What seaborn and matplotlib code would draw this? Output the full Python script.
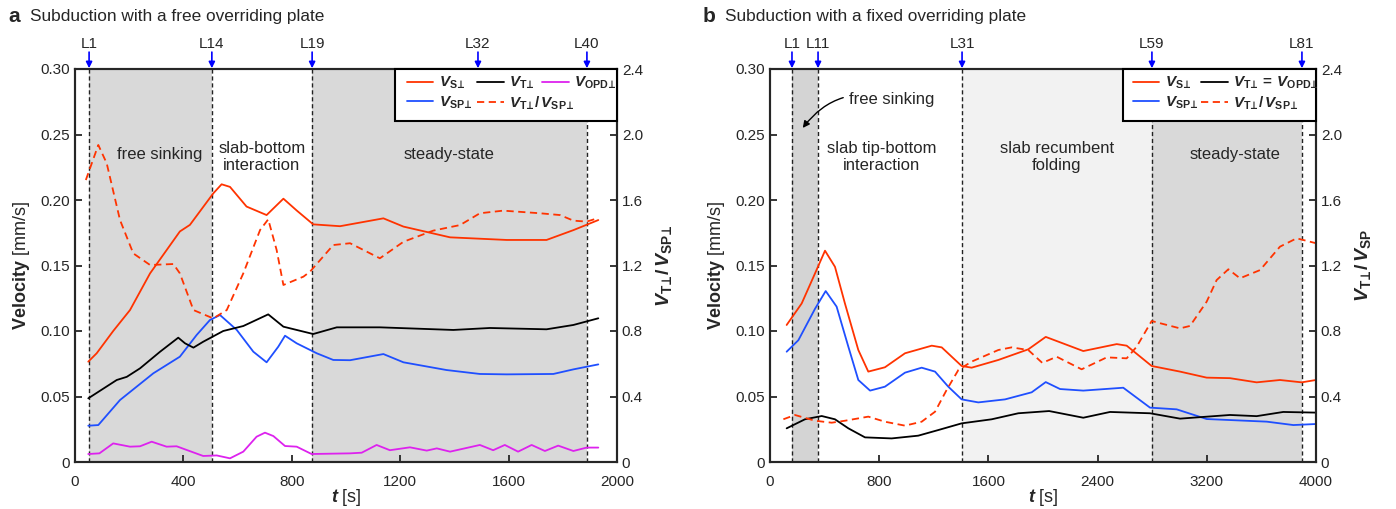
import numpy as np
import pandas as pd
import matplotlib
matplotlib.use("Agg")
import matplotlib.pyplot as plt
from matplotlib.patches import Rectangle
import seaborn as sns

# ---------------- data: panel a (free overriding plate) ----------------
a_vs_t = [49, 80, 141, 203, 277, 387, 424, 510, 541, 572, 633, 707, 769, 818, 879, 978, 1138, 1212, 1384, 1593, 1740, 1839, 1931]
a_vs_v = [0.0766, 0.083, 0.100, 0.116, 0.144, 0.176, 0.181, 0.205, 0.212, 0.210, 0.195, 0.1885, 0.201, 0.192, 0.1814, 0.180, 0.186, 0.1797, 0.1715, 0.1695, 0.1695, 0.177, 0.1847]

a_vt_t = [49, 154, 191, 240, 314, 381, 406, 437, 473, 547, 621, 713, 769, 818, 879, 966, 1125, 1396, 1531, 1740, 1839, 1931]
a_vt_v = [0.0486, 0.0626, 0.065, 0.0715, 0.0842, 0.0949, 0.0906, 0.0873, 0.0918, 0.100, 0.1038, 0.1127, 0.1033, 0.1008, 0.0977, 0.1028, 0.1028, 0.1008, 0.1023, 0.1013, 0.1046, 0.1097]

a_vsp_t = [49, 86, 166, 289, 387, 449, 498, 535, 597, 658, 707, 750, 775, 818, 892, 953, 1015, 1138, 1212, 1371, 1494, 1593, 1765, 1839, 1931]
a_vsp_v = [0.0277, 0.0282, 0.0473, 0.0677, 0.0804, 0.097, 0.1084, 0.1122, 0.1008, 0.0842, 0.0761, 0.088, 0.0964, 0.0906, 0.083, 0.0779, 0.0777, 0.0824, 0.0761, 0.0702, 0.0672, 0.0669, 0.0672, 0.0707, 0.0745]

a_vopd_t = [49, 90, 141, 203, 240, 283, 338, 375, 412, 473, 523, 572, 621, 670, 701, 732, 775, 818, 873, 1015, 1058, 1113, 1162, 1236, 1298, 1335, 1384, 1494, 1543, 1586, 1635, 1685, 1734, 1783, 1839, 1888, 1931]
a_vopd_v = [0.0061, 0.0066, 0.0142, 0.0117, 0.012, 0.0155, 0.0117, 0.012, 0.0092, 0.0046, 0.005, 0.0028, 0.0079, 0.0193, 0.0224, 0.0198, 0.0122, 0.0117, 0.0061, 0.0066, 0.0071, 0.013, 0.009, 0.0112, 0.0087, 0.0104, 0.0079, 0.013, 0.009, 0.013, 0.0079, 0.013, 0.0084, 0.0125, 0.0084, 0.011, 0.011]

a_ratio_t = [40, 86, 117, 166, 215, 277, 363, 387, 437, 510, 560, 621, 683, 713, 744, 769, 843, 867, 953, 1015, 1125, 1212, 1322, 1421, 1494, 1580, 1716, 1790, 1839, 1888, 1931]
a_ratio_r = [1.722, 1.936, 1.824, 1.478, 1.274, 1.203, 1.209, 1.152, 0.928, 0.877, 0.928, 1.152, 1.417, 1.482, 1.295, 1.081, 1.132, 1.162, 1.325, 1.336, 1.244, 1.345, 1.413, 1.447, 1.519, 1.535, 1.519, 1.508, 1.474, 1.468, 1.49]

a_marks_t = [52, 505, 875, 1487, 1889]
a_marks_lab = ["L1", "L14", "L19", "L32", "L40"]
a_dashed = [52, 505, 875, 1889]

# ---------------- data: panel b (fixed overriding plate) ----------------
b_vs_t = [122, 232, 330, 403, 476, 549, 647, 720, 842, 989, 1185, 1258, 1404, 1477, 1673, 1892, 2020, 2295, 2540, 2613, 2796, 3004, 3199, 3370, 3565, 3736, 3895, 4000]
b_vs_v = [0.1046, 0.121, 0.144, 0.1613, 0.149, 0.121, 0.0855, 0.069, 0.0723, 0.083, 0.0888, 0.0875, 0.0733, 0.072, 0.0779, 0.086, 0.0955, 0.0847, 0.090, 0.0888, 0.0733, 0.069, 0.0644, 0.064, 0.0608, 0.0626, 0.0608, 0.0626]

b_vsp_t = [122, 208, 330, 408, 488, 574, 647, 733, 842, 989, 1111, 1209, 1306, 1404, 1526, 1722, 1917, 2020, 2125, 2295, 2588, 2784, 2979, 3199, 3639, 3834, 4000]
b_vsp_v = [0.0842, 0.093, 0.117, 0.1305, 0.1186, 0.088, 0.0626, 0.0545, 0.0575, 0.0682, 0.072, 0.069, 0.0575, 0.0478, 0.0455, 0.0478, 0.0532, 0.061, 0.0557, 0.0545, 0.0567, 0.0415, 0.0402, 0.0328, 0.0308, 0.0282, 0.029]

b_vt_t = [122, 256, 379, 476, 574, 696, 891, 1086, 1233, 1404, 1624, 1819, 2045, 2295, 2491, 2784, 3004, 3370, 3565, 3760, 4000]
b_vt_v = [0.0257, 0.0326, 0.0351, 0.0326, 0.0257, 0.0188, 0.018, 0.0201, 0.0244, 0.0295, 0.0326, 0.0372, 0.0389, 0.0338, 0.0382, 0.0372, 0.0331, 0.0359, 0.035, 0.0382, 0.0377]

b_ratio_t = [98, 183, 330, 452, 549, 720, 842, 989, 1111, 1209, 1294, 1380, 1477, 1673, 1770, 1892, 1995, 2100, 2283, 2467, 2613, 2686, 2796, 3004, 3077, 3199, 3272, 3358, 3443, 3590, 3736, 3858, 4000]
b_ratio_r = [0.261, 0.287, 0.252, 0.240, 0.252, 0.277, 0.246, 0.222, 0.246, 0.307, 0.44, 0.562, 0.613, 0.684, 0.700, 0.684, 0.605, 0.643, 0.566, 0.639, 0.633, 0.704, 0.861, 0.816, 0.831, 0.979, 1.111, 1.177, 1.122, 1.172, 1.315, 1.366, 1.336]

b_marks_t = [161, 352, 1407, 2798, 3897]
b_marks_lab = ["L1", "L11", "L31", "L59", "L81"]
b_dashed = [161, 352, 1407, 2798, 3897]

# ---------------- style ----------------
sns.set_style("ticks")
FONT = ["Liberation Sans", "DejaVu Sans"]
plt.rcParams["font.family"] = FONT
plt.rcParams["mathtext.fontset"] = "custom"
plt.rcParams["mathtext.rm"] = "Liberation Sans"
plt.rcParams["mathtext.it"] = "Liberation Sans:italic"
plt.rcParams["mathtext.bf"] = "Liberation Sans:bold"
plt.rcParams["mathtext.fallback"] = "stixsans"
try:
    plt.rcParams["mathtext.bfit"] = "Liberation Sans:bold:italic"
except KeyError:
    pass
plt.rcParams["xtick.direction"] = "in"
plt.rcParams["ytick.direction"] = "in"

RED = "#ff3300"
BLUE = "#1f4fff"
BLACK = "#000000"
MAG = "#dd22ee"
GRAY = "#d9d9d9"
LIGHT = "#f2f2f2"
DASH = (0, (4, 2.5))

fig = plt.figure(figsize=(13.96, 5.09), dpi=100)
axA = fig.add_axes([75 / 1396, 47 / 509, (617 - 75) / 1396, (462 - 69) / 509])
axB = fig.add_axes([770 / 1396, 47 / 509, (1316 - 770) / 1396, (462 - 69) / 509])

def line(ax, t, v, color, ls="-", label=None):
    df = pd.DataFrame({"t": t, "v": v})
    sns.lineplot(data=df, x="t", y="v", ax=ax, color=color, linestyle=ls, lw=1.3,
                 label=label, legend=False, sort=False, estimator=None)

P = "\u22a5"
LBL_VS = r"$\mathbfit{V}_{\mathbf{S" + P + "}}$"
LBL_VSP = r"$\mathbfit{V}_{\mathbf{SP" + P + "}}$"
LBL_VT = r"$\mathbfit{V}_{\mathbf{T" + P + "}}$"
LBL_VOPD = r"$\mathbfit{V}_{\mathbf{OPD" + P + "}}$"
LBL_RATIO = r"$\mathbfit{V}_{\mathbf{T" + P + r"}}\mathbf{/}\,\mathbfit{V}_{\mathbf{SP" + P + "}}$"
LBL_VTEQ = r"$\mathbfit{V}_{\mathbf{T" + P + r"}}\,\mathbf{=}\,\mathbfit{V}_{\mathbf{OPD" + P + "}}$"

def setup(ax, ax2, xmax, xstep, marks_t, marks_lab, dashed):
    ax.set_xlim(0, xmax)
    ax.set_ylim(0, 0.30)
    ax2.set_ylim(0, 2.4)
    ax.set_xticks(np.arange(0, xmax + 1, xstep))
    ax.set_yticks(np.arange(0, 0.301, 0.05))
    ax.set_yticklabels(["0", "0.05", "0.10", "0.15", "0.20", "0.25", "0.30"])
    ax2.set_yticks(np.arange(0, 2.41, 0.4))
    ax2.set_yticklabels(["0", "0.4", "0.8", "1.2", "1.6", "2.0", "2.4"])
    for a in (ax, ax2):
        a.tick_params(labelsize=11, length=5, width=1.3, direction="in")
        for s in a.spines.values():
            s.set_linewidth(1.5)
            s.set_visible(True)
    ax.tick_params(axis="x", pad=9)
    ax.set_xlabel(r"$\mathbfit{t}$ [s]", fontsize=13)
    ax.xaxis.set_label_coords(0.5, -0.064)
    ax.set_ylabel(r"$\mathbf{Velocity}$ [mm/s]", fontsize=13, labelpad=6)
    for x in dashed:
        ax.axvline(x, color="#222222", lw=1.0, ls=(0, (3, 2)), zorder=1)
    for x, lab in zip(marks_t, marks_lab):
        ax.annotate("", xy=(x, 1.002), xycoords=("data", "axes fraction"),
                    xytext=(x, 1.043), textcoords=("data", "axes fraction"),
                    arrowprops=dict(arrowstyle="-|>", color="blue", lw=1.2,
                                    mutation_scale=9, shrinkA=0, shrinkB=0),
                    annotation_clip=False)
        ax.text(x, 1.047, lab, transform=ax.get_xaxis_transform(), ha="center",
                va="bottom", fontsize=11)

def legend_rows(ax2, handles, labels, ncol, anchor, colsp=0.4):
    leg = ax2.legend(handles, labels, ncol=ncol, loc="upper left",
                     bbox_to_anchor=anchor, fontsize=11, frameon=False,
                     handlelength=1.75, columnspacing=colsp, handletextpad=0.35,
                     borderaxespad=0.0, borderpad=0.0, labelspacing=0.2)
    return leg

def frame(ax2, x0, y0):
    r = Rectangle((x0, y0), 1.0 - x0, 1.0 - y0, transform=ax2.transAxes,
                  facecolor="white", edgecolor="black", lw=1.5, zorder=4.5, clip_on=False)
    ax2.add_patch(r)

# ---------------- panel a ----------------
ax2A = axA.twinx()
axA.axvspan(52, 505, color=GRAY, lw=0, zorder=0)
axA.axvspan(875, 1889, color=GRAY, lw=0, zorder=0)
line(axA, a_vs_t, a_vs_v, RED, label=LBL_VS)
line(axA, a_vsp_t, a_vsp_v, BLUE, label=LBL_VSP)
line(axA, a_vt_t, a_vt_v, BLACK, label=LBL_VT)
line(axA, a_vopd_t, a_vopd_v, MAG, label=LBL_VOPD)
line(ax2A, a_ratio_t, a_ratio_r, RED, ls=DASH, label=LBL_RATIO)
setup(axA, ax2A, 2000, 400, a_marks_t, a_marks_lab, a_dashed)
ax2A.set_ylabel(r"$\mathbfit{V}_{\mathbf{T" + P + r"}}\mathbf{/}\,\mathbfit{V}_{\mathbf{SP" + P + "}}$",
                fontsize=14, labelpad=8)
hd = {l.get_label(): l for l in axA.get_lines() + ax2A.get_lines()}
frame(ax2A, 0.590, 0.868)
order = [LBL_VS, LBL_VSP, LBL_VT, LBL_RATIO]
legA1 = legend_rows(ax2A, [hd[k] for k in order], order, 2, (0.612, 0.985), colsp=0.3)
ax2A.add_artist(legA1)
legA2 = legend_rows(ax2A, [hd[LBL_VOPD]], [LBL_VOPD], 1, (0.862, 0.985))
for lg in (legA1, legA2):
    lg.set_zorder(6)

axA.text((160 - 75) / 0.271, 0.235, "free sinking", ha="center", va="center", fontsize=12)
axA.text(690, 0.233, "slab-bottom\ninteraction", ha="center", va="center", fontsize=12, linespacing=1.2)
axA.text(1380, 0.235, "steady-state", ha="center", va="center", fontsize=12)

# ---------------- panel b ----------------
ax2B = axB.twinx()
axB.axvspan(161, 352, color="#d4d4d4", lw=0, zorder=0)
axB.axvspan(1407, 2798, color=LIGHT, lw=0, zorder=0)
axB.axvspan(2798, 3897, color=GRAY, lw=0, zorder=0)
line(axB, b_vs_t, b_vs_v, RED, label=LBL_VS)
line(axB, b_vsp_t, b_vsp_v, BLUE, label=LBL_VSP)
line(axB, b_vt_t, b_vt_v, BLACK, label=LBL_VTEQ)
line(ax2B, b_ratio_t, b_ratio_r, RED, ls=DASH, label=LBL_RATIO)
setup(axB, ax2B, 4000, 800, b_marks_t, b_marks_lab, b_dashed)
ax2B.set_ylabel(r"$\mathbfit{V}_{\mathbf{T" + P + r"}}\mathbf{/}\,\mathbfit{V}_{\mathbf{SP}}$",
                fontsize=14, labelpad=8)
hd = {l.get_label(): l for l in axB.get_lines() + ax2B.get_lines()}
frame(ax2B, 0.6465, 0.868)
order = [LBL_VS, LBL_VSP, LBL_VTEQ, LBL_RATIO]
legB = legend_rows(ax2B, [hd[k] for k in order], order, 2, (0.664, 0.985), colsp=0.2)
legB.set_zorder(6)

axB.annotate("free sinking", xy=(240, 0.255), xytext=(580, 0.277), ha="left", va="center",
             fontsize=12,
             arrowprops=dict(arrowstyle="-|>", color="black", lw=1.0, mutation_scale=10,
                             connectionstyle="arc3,rad=0.35", shrinkA=2, shrinkB=0))
axB.text(820, 0.233, "slab tip-bottom\ninteraction", ha="center", va="center", fontsize=12, linespacing=1.2)
axB.text(2100, 0.233, "slab recumbent\nfolding", ha="center", va="center", fontsize=12, linespacing=1.2)
axB.text(3410, 0.235, "steady-state", ha="center", va="center", fontsize=12)

# ---------------- titles ----------------
fig.text(8 / 1396, 1 - 17 / 509, "a", fontsize=15, fontweight="bold", va="center", ha="left")
fig.text(30 / 1396, 1 - 17 / 509, "Subduction with a free overriding plate", fontsize=12.4, va="center", ha="left")
fig.text(703 / 1396, 1 - 17 / 509, "b", fontsize=15, fontweight="bold", va="center", ha="left")
fig.text(725 / 1396, 1 - 17 / 509, "Subduction with a fixed overriding plate", fontsize=12.4, va="center", ha="left")

fig.savefig("out.png", dpi=100)
